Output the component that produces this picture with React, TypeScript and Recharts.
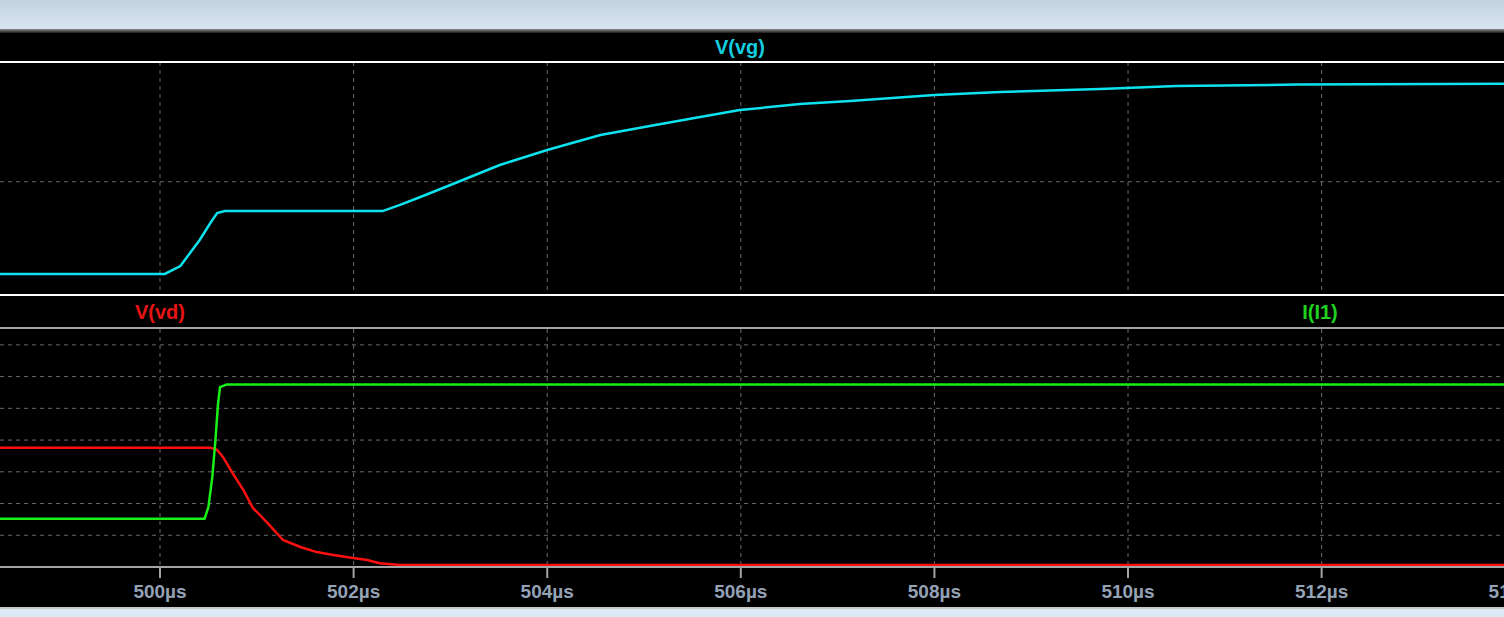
import { LineChart, Line, XAxis, YAxis, CartesianGrid } from 'recharts'

// time axis in µs; 96.8 px per µs across a 1540px plot so the 514µs tick gets clipped
const T_MIN = 498.347
const T_MAX = 514.256
const timeTicks = [500, 502, 504, 506, 508, 510, 512, 514]

// V(vg) - gate voltage, top pane
const vgTime = [498.3, 500.05, 500.21, 500.31, 500.41, 500.52, 500.59, 500.67, 502.3, 502.48, 502.69, 503.0, 503.51, 504.0, 504.55, 505.06, 505.58, 505.99, 506.61, 507.13, 508.0, 508.68, 509.71, 510.5, 511.74, 514.3]
const vgVolts = [-0.16, -0.16, 0.37, 1.24, 2.11, 3.24, 3.91, 4.04, 4.04, 4.45, 4.98, 5.78, 7.12, 8.12, 9.12, 9.72, 10.32, 10.79, 11.19, 11.39, 11.79, 11.99, 12.19, 12.39, 12.49, 12.55]

// V(vd) - drain voltage, bottom pane (left axis)
const vdTime = [498.3, 500.52, 500.59, 500.65, 500.75, 500.86, 500.96, 501.11, 501.27, 501.45, 501.62, 501.79, 501.96, 502.14, 502.27, 502.48, 514.3]
const vdVolts = [37.6, 37.6, 36.9, 34.7, 29.6, 24.3, 18.6, 13.9, 8.5, 6.3, 4.7, 3.8, 3.0, 2.2, 1.2, 0.6, 0.6]

// I(I1) - inductor current, bottom pane (right axis)
const i1Time = [498.3, 500.46, 500.5, 500.54, 500.57, 500.6, 500.62, 500.69, 514.3]
const i1Amps = [3.04, 3.04, 3.78, 5.67, 7.81, 10.33, 11.34, 11.51, 11.51]

const vgTicks = [6]
const vdTicks = [10, 20, 30, 40, 50, 60, 70]

const vgData = vgTime.map((t, i) => ({ t, v: vgVolts[i] }))
const vdData = vdTime.map((t, i) => ({ t, v: vdVolts[i] }))
const i1Data = i1Time.map((t, i) => ({ t, a: i1Amps[i] }))

const FONT = '"Liberation Sans", Arial, sans-serif'
const GRID = '#6b6b6b'

const labelStyle = (color: string, left: number, top: number): React.CSSProperties => ({
  position: 'absolute',
  left,
  top,
  transform: 'translate(-50%, -50%)',
  color,
  fontFamily: FONT,
  fontWeight: 'bold',
  fontSize: 20,
  whiteSpace: 'nowrap',
})

const hLine = (top: number, color: string): React.CSSProperties => ({
  position: 'absolute',
  left: 0,
  top,
  width: '100%',
  height: 2,
  background: color,
})

export default function App() {
  return (
    <div
      style={{
        position: 'absolute',
        left: 0,
        top: 0,
        width: 1504,
        height: 617,
        overflow: 'hidden',
        background: '#000',
      }}
    >
      {/* window chrome */}
      <div style={{ position: 'absolute', left: 0, top: 0, width: '100%', height: 29, background: 'linear-gradient(#c4d2e0, #d9e6f2)' }} />
      <div style={{ position: 'absolute', left: 0, top: 29, width: '100%', height: 4, background: 'linear-gradient(#8c8c8c, #1a1a1a)' }} />
      <div style={{ position: 'absolute', left: 0, top: 607, width: '100%', height: 2, background: '#c8c8c8' }} />
      <div style={{ position: 'absolute', left: 0, top: 609, width: '100%', height: 8, background: '#dde9f5' }} />

      {/* top pane: V(vg) */}
      <div style={{ position: 'absolute', left: 0, top: 62 }}>
        <LineChart width={1540} height={232} margin={{ top: 0, right: 0, bottom: 0, left: 0 }}>
          <CartesianGrid stroke={GRID} strokeDasharray="4 4" verticalValues={timeTicks} horizontalValues={vgTicks} />
          <XAxis dataKey="t" type="number" domain={[T_MIN, T_MAX]} ticks={timeTicks} allowDataOverflow hide />
          <YAxis type="number" domain={[-1.5, 14]} ticks={vgTicks} allowDataOverflow hide />
          <Line data={vgData} dataKey="v" type="linear" stroke="#0de3ee" strokeWidth={2.5} dot={false} isAnimationActive={false} />
        </LineChart>
      </div>

      {/* bottom pane: V(vd) and I(I1) */}
      <div style={{ position: 'absolute', left: 0, top: 329 }}>
        <LineChart width={1540} height={290} margin={{ top: 0, right: 0, bottom: 0, left: 0 }}>
          <CartesianGrid stroke={GRID} strokeDasharray="4 4" yAxisId="v" verticalValues={timeTicks} horizontalValues={vdTicks} />
          <XAxis
            dataKey="t"
            type="number"
            domain={[T_MIN, T_MAX]}
            ticks={timeTicks}
            interval={0}
            allowDataOverflow
            height={52}
            tickSize={11}
            tickMargin={7}
            axisLine={{ stroke: '#a4a4a4', strokeWidth: 2 }}
            tickLine={{ stroke: '#a4a4a4', strokeWidth: 2 }}
            tick={{ fill: '#94a2b6', fontSize: 19, fontFamily: FONT, fontWeight: 'bold' }}
            tickFormatter={(v) => `${v}µs`}
          />
          <YAxis yAxisId="v" type="number" domain={[0, 75]} ticks={vdTicks} allowDataOverflow hide />
          <YAxis yAxisId="i" orientation="right" type="number" domain={[0, 15]} allowDataOverflow hide />
          <Line yAxisId="v" data={vdData} dataKey="v" type="linear" stroke="#ff1010" strokeWidth={2.5} dot={false} isAnimationActive={false} />
          <Line yAxisId="i" data={i1Data} dataKey="a" type="linear" stroke="#18f018" strokeWidth={2.5} dot={false} isAnimationActive={false} />
        </LineChart>
      </div>

      {/* pane borders */}
      <div style={hLine(61, '#ffffff')} />
      <div style={hLine(294, '#ffffff')} />
      <div style={hLine(327, '#a4a4a4')} />

      {/* trace names */}
      <div style={labelStyle('#14cfe0', 740, 47)}>V(vg)</div>
      <div style={labelStyle('#e81414', 160, 312)}>V(vd)</div>
      <div style={labelStyle('#1fd21f', 1320, 312)}>I(I1)</div>
    </div>
  )
}
